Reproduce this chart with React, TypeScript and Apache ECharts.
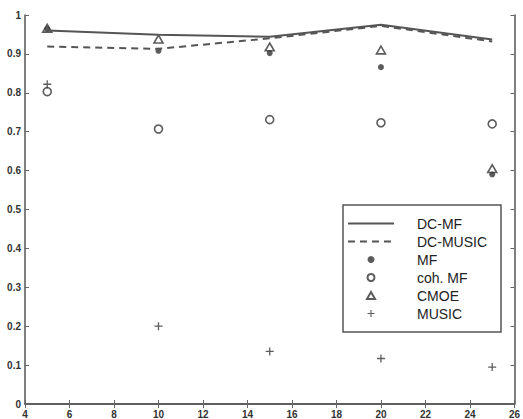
import React, { useEffect, useRef } from "react";
import * as echarts from "echarts";

const xValues = [5, 10, 15, 20, 25];
const dcMF = [0.96, 0.949, 0.944, 0.975, 0.937];
const dcMUSIC = [0.919, 0.913, 0.94, 0.972, 0.932];
const mf = [0.964, 0.908, 0.902, 0.866, 0.59];
const cohMF = [0.803, 0.707, 0.731, 0.723, 0.72];
const cmoe = [0.966, 0.938, 0.918, 0.91, 0.605];
const music = [0.822, 0.2, 0.135, 0.117, 0.095];

const pairs = (ys: number[]) => xValues.map((x, i) => [x, ys[i]]);

const PLUS = "path://M4.2,0H5.8V4.2H10V5.8H5.8V10H4.2V5.8H0V4.2H4.2Z";
const TRI = "path://M5,0L10,8.66H0Z";
const INK = "#333";

export default function App() {
  const ref = useRef<HTMLDivElement>(null);
  useEffect(() => {
    if (!ref.current) return;
    const chart = echarts.init(ref.current, null, { renderer: "svg" });
    const axisLine = { show: true, lineStyle: { color: "#555", width: 1.5 } };
    const tick = { show: true, inside: true, length: 4, lineStyle: { color: "#666" } };
    const label = {
      color: "#333",
      fontSize: 10,
      fontWeight: "bold" as const,
      fontFamily: "Liberation Sans, Arial, sans-serif",
    };
    chart.setOption({
      animation: false,
      backgroundColor: "#fff",
      grid: { left: 25, right: 5, top: 15, bottom: 14, containLabel: false },
      xAxis: [
        {
          type: "value",
          min: 4,
          max: 26,
          interval: 2,
          position: "bottom",
          axisLine,
          axisTick: tick,
          splitLine: { show: false },
          axisLabel: { ...label, margin: 5 },
        },
        {
          type: "value",
          min: 4,
          max: 26,
          interval: 2,
          position: "top",
          axisLine,
          axisTick: tick,
          splitLine: { show: false },
          axisLabel: { show: false },
        },
      ],
      yAxis: [
        {
          type: "value",
          min: 0,
          max: 1,
          interval: 0.1,
          position: "left",
          axisLine,
          axisTick: tick,
          splitLine: { show: false },
          axisLabel: {
            ...label,
            margin: 4,
            formatter: (v: number) => String(Math.round(v * 10) / 10),
          },
        },
        {
          type: "value",
          min: 0,
          max: 1,
          interval: 0.1,
          position: "right",
          axisLine,
          axisTick: tick,
          splitLine: { show: false },
          axisLabel: { show: false },
        },
      ],
      legend: {
        orient: "vertical",
        left: 343,
        top: 205,
        padding: [11, 14, 11, 4],
        itemGap: 3,
        itemWidth: 46,
        itemHeight: 7,
        borderColor: "#555",
        borderWidth: 1.5,
        backgroundColor: "#fff",
        textStyle: {
          color: "#222",
          fontSize: 14,
          fontFamily: "Liberation Sans, Arial, sans-serif",
          padding: [0, 0, 0, 18],
          lineHeight: 15,
        },
        data: [
          { name: "DC-MF", itemStyle: { opacity: 0 } },
          { name: "DC-MUSIC", itemStyle: { opacity: 0 } },
          { name: "MF" },
          { name: "coh. MF" },
          { name: "CMOE", icon: TRI },
          { name: "MUSIC" },
        ],
      },
      series: [
        {
          name: "DC-MF",
          type: "line",
          data: pairs(dcMF),
          symbol: "none",
          lineStyle: { color: "#555", width: 2 },
          itemStyle: { color: "#555" },
        },
        {
          name: "DC-MUSIC",
          type: "line",
          data: pairs(dcMUSIC),
          symbol: "none",
          lineStyle: { color: "#555", width: 2, type: [7, 5] },
          itemStyle: { color: "#555" },
        },
        {
          name: "MF",
          type: "scatter",
          data: pairs(mf),
          symbol: "circle",
          symbolSize: 6,
          itemStyle: { color: INK },
        },
        {
          name: "coh. MF",
          type: "scatter",
          data: pairs(cohMF),
          symbol: "circle",
          symbolSize: 8,
          itemStyle: { color: "rgba(255,255,255,0)", borderColor: INK, borderWidth: 1.6 },
        },
        {
          name: "CMOE",
          type: "scatter",
          data: pairs(cmoe),
          symbol: TRI,
          symbolSize: 9,
          symbolKeepAspect: true,
          itemStyle: { color: "rgba(255,255,255,0)", borderColor: INK, borderWidth: 1.6 },
        },
        {
          name: "MUSIC",
          type: "scatter",
          data: pairs(music),
          symbol: PLUS,
          symbolSize: 8,
          symbolKeepAspect: true,
          itemStyle: { color: INK },
        },
      ],
    });
    return () => chart.dispose();
  }, []);
  return (
    <div
      ref={ref}
      style={{ position: "fixed", left: 0, top: 0, width: 523, height: 419, background: "#fff" }}
    />
  );
}
